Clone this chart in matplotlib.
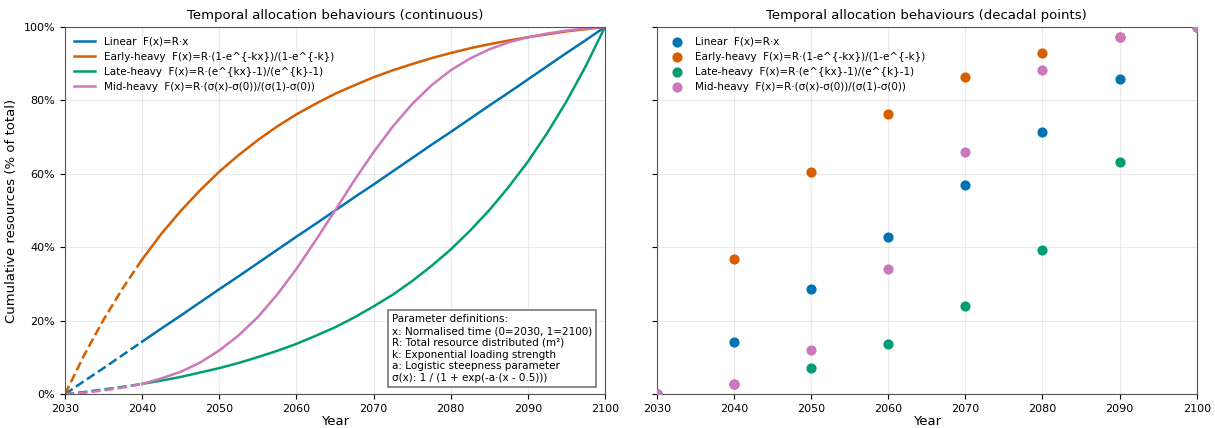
import matplotlib
matplotlib.use("Agg")
import matplotlib.pyplot as plt
from matplotlib.ticker import PercentFormatter

# years every 2.5 yrs, 2030 -> 2100
years = [2030 + 2.5 * i for i in range(29)]

# cumulative share (% of total)
linear = [0.0, 3.6, 7.1, 10.7, 14.3, 17.9, 21.4, 25.0, 28.6, 32.1, 35.7, 39.3, 42.9, 46.4,
          50.0, 53.6, 57.1, 60.7, 64.3, 67.9, 71.4, 75.0, 78.6, 82.1, 85.7, 89.3, 92.9, 96.4, 100.0]
early = [0.0, 10.7, 20.3, 28.9, 36.7, 43.7, 49.9, 55.5, 60.6, 65.1, 69.2, 72.9, 76.2, 79.1,
         81.8, 84.1, 86.3, 88.2, 89.9, 91.5, 92.9, 94.2, 95.3, 96.3, 97.2, 98.0, 98.8, 99.4, 100.0]
late = [0.0, 0.6, 1.3, 2.0, 2.8, 3.7, 4.7, 5.9, 7.1, 8.5, 10.1, 11.8, 13.7, 15.9,
        18.2, 20.9, 23.9, 27.1, 30.8, 34.9, 39.4, 44.5, 50.1, 56.4, 63.3, 71.1, 79.7, 89.3, 100.0]
mid = [0.0, 0.4, 1.0, 1.8, 2.8, 4.3, 6.1, 8.6, 11.9, 16.0, 21.0, 27.1, 34.1, 41.9,
       50.0, 58.2, 65.9, 72.9, 79.0, 84.1, 88.2, 91.4, 93.9, 95.8, 97.2, 98.2, 99.0, 99.6, 100.0]

labels = ["Linear  F(x)=R·x",
          "Early-heavy  F(x)=R·(1-e^{-kx})/(1-e^{-k})",
          "Late-heavy  F(x)=R·(e^{kx}-1)/(e^{k}-1)",
          "Mid-heavy  F(x)=R·(σ(x)-σ(0))/(σ(1)-σ(0))"]
colors = ["#0173b2", "#d55e00", "#029e73", "#cc78bc"]
series = [linear, early, late, mid]

param_text = ("Parameter definitions:\n"
              "x: Normalised time (0=2030, 1=2100)\n"
              "R: Total resource distributed (m²)\n"
              "k: Exponential loading strength\n"
              "a: Logistic steepness parameter\n"
              "σ(x): 1 / (1 + exp(-a·(x - 0.5)))")

fig, (ax1, ax2) = plt.subplots(1, 2, figsize=(12.15, 4.28), dpi=100, sharey=True)
fig.subplots_adjust(left=0.0535, right=0.985, bottom=0.079, top=0.937, wspace=0.096)

# left: continuous, dashed for first decade
for vals, lab, c in zip(series, labels, colors):
    ax1.plot(years[:5], vals[:5], "--", color=c, lw=1.8)
    ax1.plot(years[4:], vals[4:], "-", color=c, lw=1.8, label=lab)

ax1.set_title("Temporal allocation behaviours (continuous)", fontsize=9.5)
ax1.set_xlabel("Year", fontsize=9.5, labelpad=1)
ax1.set_ylabel("Cumulative resources (% of total)", fontsize=9.5)
ax1.legend(loc="upper left", frameon=False, fontsize=7.5)
ax1.text(0.976, 0.03, param_text, transform=ax1.transAxes, fontsize=7.5,
         va="bottom", ha="right", multialignment="left", linespacing=1.22,
         bbox=dict(boxstyle="square,pad=0.4", fc="white", ec="#777777", lw=1.2))

# right: decadal points
for vals, lab, c in zip(series, labels, colors):
    ax2.scatter(years[::4], vals[::4], color=c, s=40, label=lab, zorder=3)

ax2.set_title("Temporal allocation behaviours (decadal points)", fontsize=9.5)
ax2.set_xlabel("Year", fontsize=9.5, labelpad=1)
ax2.legend(loc="upper left", frameon=False, fontsize=7.5)

for ax in (ax1, ax2):
    ax.set_xlim(2030, 2100)
    ax.set_ylim(0, 100)
    ax.set_xticks(range(2030, 2101, 10))
    ax.set_yticks(range(0, 101, 20))
    ax.yaxis.set_major_formatter(PercentFormatter(100, decimals=0))
    ax.grid(True, color="#dddddd", alpha=0.6, lw=0.8)
    ax.tick_params(labelsize=8)
    for s in ax.spines.values():
        s.set_color("#555555")

fig.savefig("out.png")
